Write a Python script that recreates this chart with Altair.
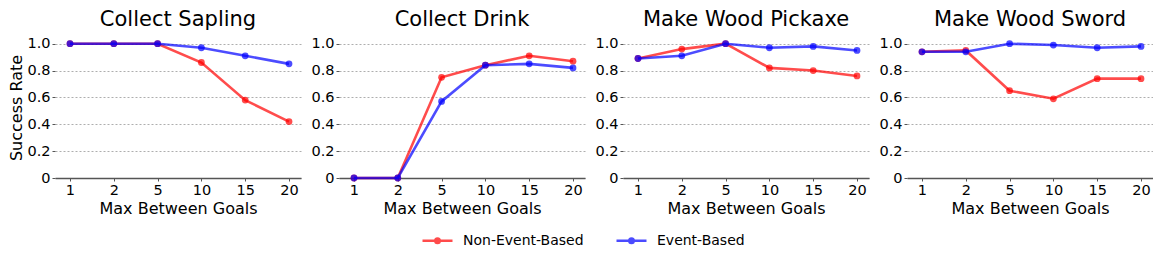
import altair as alt
import pandas as pd

# ---- data ----
x_labels = ["1", "2", "5", "10", "15", "20"]
tasks = ["Collect Sapling", "Collect Drink", "Make Wood Pickaxe", "Make Wood Sword"]
series_names = ["Non-Event-Based", "Event-Based"]
series_colors = ["#ff0000", "#0000ff"]

sapling_non_event = [1.0, 1.0, 1.0, 0.86, 0.58, 0.42]
sapling_event = [1.0, 1.0, 1.0, 0.97, 0.91, 0.85]
drink_non_event = [0.0, 0.0, 0.75, 0.84, 0.91, 0.87]
drink_event = [0.0, 0.0, 0.57, 0.84, 0.85, 0.82]
pickaxe_non_event = [0.89, 0.96, 1.0, 0.82, 0.80, 0.76]
pickaxe_event = [0.89, 0.91, 1.0, 0.97, 0.98, 0.95]
sword_non_event = [0.94, 0.95, 0.65, 0.59, 0.74, 0.74]
sword_event = [0.94, 0.94, 1.0, 0.99, 0.97, 0.98]

y_ticks = [0, 0.2, 0.4, 0.6, 0.8, 1.0]

series_by_task = {
    "Collect Sapling": (sapling_non_event, sapling_event),
    "Collect Drink": (drink_non_event, drink_event),
    "Make Wood Pickaxe": (pickaxe_non_event, pickaxe_event),
    "Make Wood Sword": (sword_non_event, sword_event),
}

rows = []
for task in tasks:
    for name, vals in zip(series_names, series_by_task[task]):
        for i, v in enumerate(vals):
            rows.append({"task": task, "method": name, "idx": i, "label": x_labels[i], "value": v})
df = pd.DataFrame(rows)

FONT = "DejaVu Sans"
label_expr_x = "[" + ",".join("'%s'" % l for l in x_labels) + "][datum.value]"
color_scale = alt.Scale(domain=series_names, range=series_colors)
legend_path = "M-1,0L1,0M0.15,0A0.15,0.15,0,1,1,-0.15,0A0.15,0.15,0,1,1,0.15,0Z"


def panel(task, first):
    base = alt.Chart(df).transform_filter(alt.datum.task == task)
    x_enc = alt.X(
        "idx:Q",
        scale=alt.Scale(domain=[-0.342, 5.274], nice=False, zero=False),
        axis=alt.Axis(
            values=list(range(len(x_labels))),
            labelExpr=label_expr_x,
            title="Max Between Goals",
            grid=False,
        ),
    )
    y_enc = alt.Y(
        "value:Q",
        scale=alt.Scale(domain=[0, 1.05], nice=False),
        axis=alt.Axis(
            values=y_ticks,
            labelExpr="datum.value == 0 ? '0' : format(datum.value, '.1f')",
            grid=True,
            domain=False,
        ),
        title="Success Rate" if first else None,
    )
    color_enc = alt.Color(
        "method:N",
        scale=color_scale,
        legend=alt.Legend(
            title=None,
            orient="none",
            direction="horizontal",
            legendX=366,
            legendY=187,
            symbolType=legend_path,
            symbolSize=900,
            symbolStrokeWidth=2.5,
            symbolOpacity=0.7,
            labelFont=FONT,
            labelFontSize=14,
            labelColor="#000000",
            labelOffset=9,
            columnPadding=27,
        ),
    )
    layers = []
    for name in series_names:
        b = base.transform_filter(alt.datum.method == name)
        layers.append(
            b.mark_line(strokeWidth=2.6, opacity=0.7).encode(x=x_enc, y=y_enc, color=color_enc)
        )
        layers.append(
            b.mark_circle(size=46, opacity=0.7).encode(x=x_enc, y=y_enc, color=color_enc)
        )
    return alt.layer(*layers).properties(
        width=246,
        height=141,
        title=alt.TitleParams(task, font=FONT, fontSize=21, fontWeight="normal", color="#000000", offset=6),
    )


chart = (
    alt.hconcat(*[panel(t, i == 0) for i, t in enumerate(tasks)], spacing=38, bounds="flush")
    .resolve_scale(color="shared")
    .properties(padding={"left": 0, "top": 0, "right": 0, "bottom": 0})
    .configure_view(stroke=None)
    .configure_axis(
        labelFont=FONT,
        labelFontSize=14.5,
        labelColor="#000000",
        titleFont=FONT,
        titleFontSize=16,
        titleFontWeight="normal",
        titleColor="#000000",
        tickColor="#555555",
        tickSize=3,
        domainColor="#555555",
        domainWidth=1.5,
        gridColor="#999999",
        gridDash=[2, 2],
        gridWidth=0.8,
        labelPadding=2,
    )
    .configure_axisX(titlePadding=4)
    .configure_axisY(titlePadding=2)
)

chart.save("out.html", embed_options={"renderer": "svg", "actions": False})
